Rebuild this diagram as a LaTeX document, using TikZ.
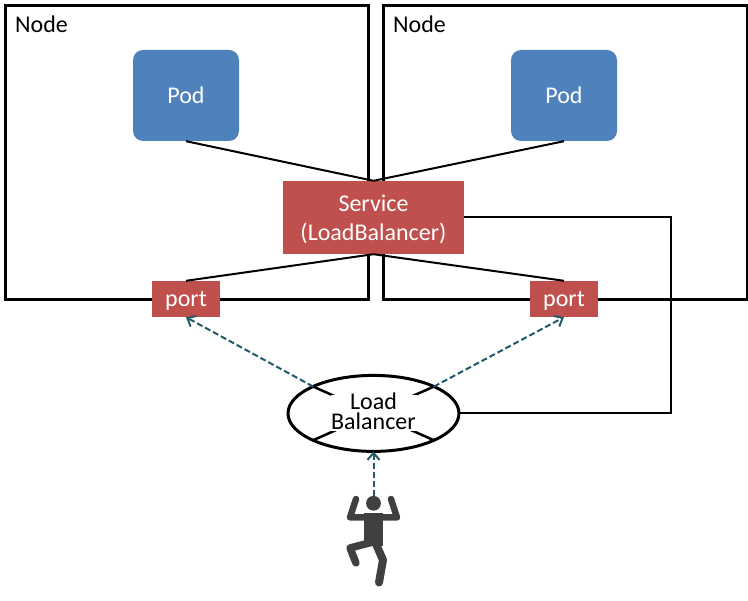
\documentclass[tikz,border=0pt]{standalone}
\usepackage{fontspec}
\setmainfont{Carlito}
\usetikzlibrary{arrows.meta,shapes.geometric}
\definecolor{podblue}{HTML}{4F81BD}
\definecolor{svcred}{HTML}{C0504D}
\definecolor{flowteal}{HTML}{215968}
\definecolor{mangrey}{HTML}{404040}
\tikzset{
  hostbox/.style={draw=black,line width=3pt,minimum width=363.5pt,minimum height=294pt,inner sep=0pt},
  hostlabel/.style={anchor=west,inner sep=0pt},
  podbox/.style={fill=podblue,text=white,rounded corners=10pt,minimum width=106pt,minimum height=91pt,inner sep=0pt},
  svcbox/.style={fill=svcred,minimum width=181pt,minimum height=73pt,inner sep=0pt},
  svctext/.style={text=white,align=center,inner sep=0pt},
  portbox/.style={fill=svcred,text=white,minimum width=68pt,minimum height=36pt,inner sep=0pt,text height=20pt,text depth=5pt},
  lbshape/.style={draw=black,line width=3pt,ellipse,minimum width=171pt,minimum height=76pt,inner sep=0pt,outer sep=0pt},
  lbmask/.style={fill=white,minimum width=86pt,minimum height=36pt,inner sep=0pt},
  lbtext/.style={align=center,inner sep=0pt,font=\fontsize{24}{20}\selectfont},
  wire/.style={draw=black,line width=2pt},
  flow/.style={draw=flowteal,line width=2pt,dash pattern=on 6pt off 3pt,-{Straight Barb[length=7pt,width=12pt,line width=2pt]}},
  limb/.style={draw=mangrey,line cap=round,line join=round}
}
\begin{document}
\begin{tikzpicture}[x=1pt,y=-1pt,font=\fontsize{24}{29}\selectfont]
    \useasboundingbox (0,0) rectangle (748,601);
    \node[hostbox] (hostl) at (186.8,152.2) {};
    \node[hostbox] (hostr) at (565.4,152.2) {};
    \node[hostlabel] (hostltxt) at (15,24) {Node};
    \node[hostlabel] (hostrtxt) at (393,24) {Node};
    \node[podbox] (podl) at (186,95.5) {Pod};
    \node[podbox] (podr) at (564,95.5) {Pod};
    \node[svcbox] (svc) at (373.5,217.5) {};
    \node[svctext] (svctxt) at (373.5,219.5) {Service\\(LoadBalancer)};
    \node[portbox] (portl) at (186,299) {port};
    \node[portbox] (portr) at (564,299) {port};
    \node[lbshape] (lb) at (373.5,413.4) {};
    \draw[wire,line width=2.5pt] (lb.north west) -- (lb.south east) (lb.north east) -- (lb.south west);
    \node[lbmask] (lbgap) at (373.5,413) {};
    \node[lbtext] (lbtxt) at (373.5,411.5) {Load\\Balancer};
    \coordinate (bend) at (670.5,217.5);
    \coordinate (manhead) at (373.5,496);
    \draw[wire] (podl.south) -- (svc.north);
    \draw[wire] (podr.south) -- (svc.north);
    \draw[wire] (svc.south) -- (portl.north);
    \draw[wire] (svc.south) -- (portr.north);
    \draw[wire] (svc.east) -- (bend) |- (lb.east);
    \draw[flow] (lb.north west) -- (portl.south);
    \draw[flow] (lb.north east) -- (portr.south);
    \draw[flow] (manhead) -- (lb.south);
    \fill[mangrey] (373.5,503.3) circle (7.4);
    \fill[mangrey] (364.3,513) rectangle (382.7,546);
    \draw[limb,line width=6.5pt] (356,499) -- (350,517.5) -- (397,517.5) -- (391,499);
    \draw[limb,line width=7.5pt] (373,542) -- (350,548) -- (356,563);
    \draw[limb,line width=8pt] (376,544) -- (383,560) -- (379,582.5);
\end{tikzpicture}
\end{document}
